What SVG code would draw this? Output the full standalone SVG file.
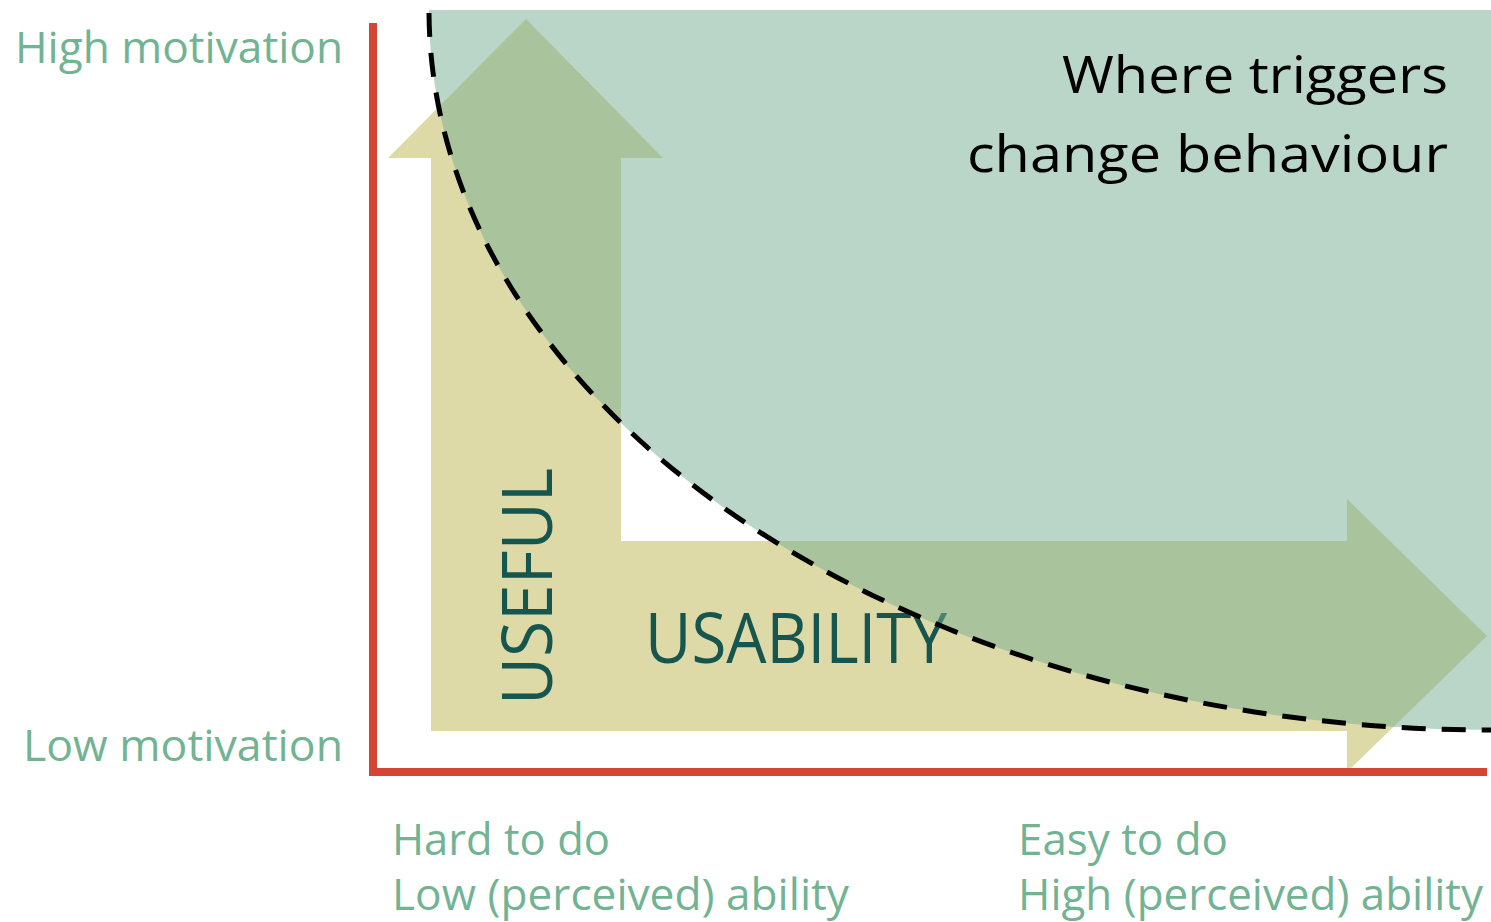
<svg xmlns="http://www.w3.org/2000/svg" width="1491" height="922" viewBox="0 0 1491 922">
  <style>
    .label { font-family: "Open Sans", "Noto Sans", sans-serif; font-size: 43px; fill: #71b393; }
    .big { font-family: "Open Sans", "Noto Sans", sans-serif; font-size: 70px; fill: #17564f; }
    .zone { font-family: "Open Sans", "Noto Sans", sans-serif; font-size: 52px; fill: #000000; }
    .arrow { fill: #dedaa7; }
  </style>
  <rect width="1491" height="922" fill="#ffffff"/>

  <!-- beige arrows: usefulness (up) and usability (right) -->
  <g id="useful-arrow">
    <polygon class="arrow" points="431,731 431,158 388,158 526,19 663,158 621,158 621,731"/>
    <text class="big" transform="translate(552,705) rotate(-90)" textLength="237" lengthAdjust="spacingAndGlyphs">USEFUL</text>
  </g>
  <g id="usability-arrow">
    <polygon class="arrow" points="621,541 1347,541 1347,499 1487,636 1347,772 1347,731 621,731"/>
    <text class="big" x="645" y="663" textLength="302" lengthAdjust="spacingAndGlyphs">USABILITY</text>
  </g>

  <!-- zone above the action threshold curve -->
  <g id="trigger-zone">
    <path d="M429,10 H1491 V730 A1062,720 0 0 1 429,10 Z" fill="#73ad91" fill-opacity="0.5"/>
    <path d="M429,10 A1062,720 0 0 0 1491,730" fill="none" stroke="#000000" stroke-width="5" stroke-dasharray="24 16" stroke-dashoffset="-3"/>
    <text class="zone" x="1448" y="93" text-anchor="end" textLength="386" lengthAdjust="spacingAndGlyphs">Where triggers</text>
    <text class="zone" x="1448" y="172" text-anchor="end" textLength="481" lengthAdjust="spacingAndGlyphs">change behaviour</text>
  </g>

  <!-- axes -->
  <g id="axes">
    <path d="M373,23 V772 H1487" fill="none" stroke="#d54535" stroke-width="8"/>
  </g>

  <!-- axis labels -->
  <g id="y-labels">
    <text class="label" x="343" y="63" text-anchor="end" textLength="328" lengthAdjust="spacingAndGlyphs">High motivation</text>
    <text class="label" x="343" y="761" text-anchor="end" textLength="320" lengthAdjust="spacingAndGlyphs">Low motivation</text>
  </g>
  <g id="x-label-low">
    <text class="label" x="392" y="855" textLength="218" lengthAdjust="spacingAndGlyphs">Hard to do</text>
    <text class="label" x="392" y="910" textLength="457" lengthAdjust="spacingAndGlyphs">Low (perceived) ability</text>
  </g>
  <g id="x-label-high">
    <text class="label" x="1018" y="855" textLength="210" lengthAdjust="spacingAndGlyphs">Easy to do</text>
    <text class="label" x="1018" y="910" textLength="465" lengthAdjust="spacingAndGlyphs">High (perceived) ability</text>
  </g>
</svg>
